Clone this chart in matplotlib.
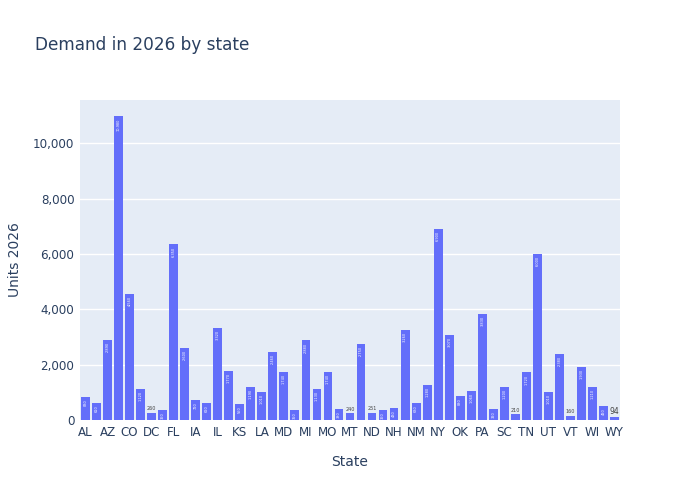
import matplotlib.pyplot as plt

states = ["AL", "AR", "AZ", "CA", "CO", "CT", "DC", "DE", "FL", "GA", "IA", "ID",
          "IL", "IN", "KS", "KY", "LA", "MA", "MD", "ME", "MI", "MN", "MO", "MS",
          "MT", "NC", "ND", "NE", "NH", "NJ", "NM", "NV", "NY", "OH", "OK", "OR",
          "PA", "RI", "SC", "SD", "TN", "TX", "UT", "VA", "VT", "WA", "WI", "WV", "WY"]
units = [830, 610, 2890, 10980, 4560, 1120, 260, 360, 6350, 2600, 720, 620,
         3320, 1770, 560, 1190, 1010, 2460, 1740, 350, 2880, 1130, 1740, 380,
         240, 2750, 251, 360, 430, 3260, 630, 1280, 6900, 3070, 880, 1060,
         3830, 390, 1200, 210, 1720, 6000, 1010, 2380, 160, 1930, 1210, 490, 94]

fig = plt.figure(figsize=(7, 5), dpi=100)
ax = fig.add_axes([80 / 700, 80 / 500, 540 / 700, 320 / 500])
ax.set_facecolor('#E5ECF6')
x = range(len(states))
ax.bar(x, units, width=0.8, color='#636EFA', zorder=2)
for i, v in enumerate(units):
    if v >= 300:
        ax.text(i, v - 80, f"{v:,}", rotation=90, ha='center', va='top',
                fontsize=2.5, color='white', zorder=3)
    else:
        ax.text(i, v + 60, f"{v:,}", ha='center', va='bottom',
                fontsize=3.5 if v > 100 else 5.5, color='#444444', zorder=3)
ax.set_xlim(-0.5, len(states) - 0.5)
ax.set_ylim(0, 11560)
ax.set_xticks(list(x)[::2])
ax.set_xticklabels(states[::2])
ax.set_yticks([0, 2000, 4000, 6000, 8000, 10000])
ax.set_yticklabels(["0", "2,000", "4,000", "6,000", "8,000", "10,000"])
ax.grid(axis='y', color='white', lw=1, zorder=1)
ax.tick_params(length=0, labelsize=8.6, colors='#2a3f5f', pad=4)
for spine in ax.spines.values():
    spine.set_visible(False)
ax.set_xlabel("State", fontsize=10, color='#2a3f5f', labelpad=12)
ax.set_ylabel("Units 2026", fontsize=10, color='#2a3f5f', labelpad=8)
fig.text(35 / 700, 1 - 45 / 500, "Demand in 2026 by state", fontsize=12.2,
         color='#2a3f5f', va='center')
fig.savefig('out.png')
